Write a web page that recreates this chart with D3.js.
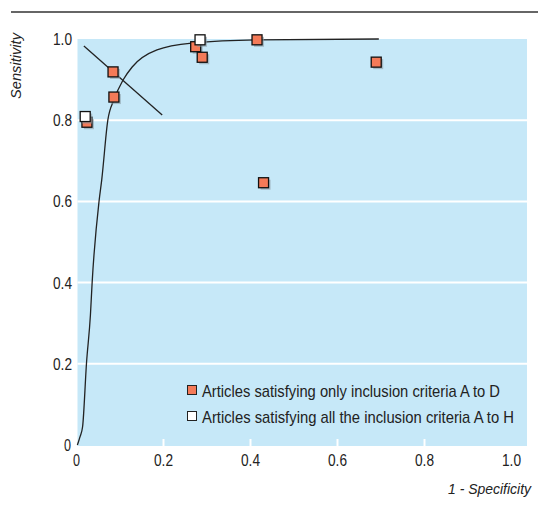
<!DOCTYPE html>
<html>
<head>
<meta charset="utf-8">
<script src="https://cdn.jsdelivr.net/npm/d3@7"></script>
<style>
  body { margin: 0; background: #fff; }
  svg text { font-family: "Liberation Sans", Arial, sans-serif; fill: #222; }
</style>
</head>
<body>
<svg id="chart"></svg>
<script>
const width = 538;
const height = 506;

// studies: [1 - specificity, sensitivity]
const partialStudies = [
  [0.024, 0.795], [0.086, 0.857], [0.084, 0.919], [0.274, 0.981],
  [0.289, 0.955], [0.415, 0.998], [0.689, 0.943], [0.430, 0.646]
];
const fullStudies = [[0.020, 0.809], [0.284, 0.998]];

// summary ROC curve
const srocCurve = [
  [0.002, 0], [0.008, 0.02], [0.014, 0.045], [0.023, 0.202], [0.032, 0.32],
  [0.036, 0.401], [0.052, 0.602], [0.058, 0.653], [0.072, 0.80], [0.086, 0.85],
  [0.107, 0.899], [0.128, 0.931], [0.185, 0.973], [0.268, 0.99], [0.415, 0.998],
  [0.695, 1.0]
];
const qLine = [[0.017, 0.983], [0.197, 0.813]];

const xTicks = [0, 0.2, 0.4, 0.6, 0.8, 1.0];
const yTicks = [0, 0.2, 0.4, 0.6, 0.8, 1.0];
const legendLabels = [
  "Articles satisfying only inclusion criteria A to D",
  "Articles satisfying all the inclusion criteria A to H"
];
const legendWidths = [298, 312];

const x = d3.scaleLinear().domain([0, 1]).range([76.5, 511.5]);
const y = d3.scaleLinear().domain([0, 1]).range([445, 39]);

const svg = d3.select("#chart").attr("width", width).attr("height", height);

// rule across the top
svg.append("line")
  .attr("x1", 11).attr("x2", 538).attr("y1", 12).attr("y2", 12)
  .attr("stroke", "#333").attr("stroke-width", 1.5);

// plot background
svg.append("rect")
  .attr("x", x(0) + 1).attr("y", y(1))
  .attr("width", 527 - x(0) - 1).attr("height", y(0) - y(1) + 1)
  .attr("fill", "#c6e8f8");

// horizontal grid
svg.append("g").selectAll("line")
  .data(yTicks.filter(d => d > 0 && d < 1))
  .join("line")
  .attr("x1", x(0) + 1).attr("x2", 527)
  .attr("y1", d => y(d)).attr("y2", d => y(d))
  .attr("stroke", "#fff").attr("stroke-width", 2);

// x ticks inside bottom
svg.append("g").selectAll("line")
  .data(xTicks.filter(d => d > 0 && d < 1))
  .join("line")
  .attr("x1", d => x(d)).attr("x2", d => x(d))
  .attr("y1", y(0) + 1).attr("y2", y(0) - 6)
  .attr("stroke", "#fff").attr("stroke-width", 2);

// tick labels
const fmt = d => d === 0 ? "0" : d.toFixed(1);
svg.append("g").selectAll("text")
  .data(xTicks)
  .join("text")
  .attr("x", d => x(d))
  .attr("y", 466)
  .attr("text-anchor", "middle")
  .attr("font-size", 16)
  .attr("textLength", d => d === 0 ? 7 : 19)
  .attr("lengthAdjust", "spacingAndGlyphs")
  .text(fmt);

svg.append("g").selectAll("text")
  .data(yTicks)
  .join("text")
  .attr("x", d => d === 0 ? 71 : 72)
  .attr("y", d => y(d) + 6)
  .attr("text-anchor", "end")
  .attr("font-size", 16)
  .attr("textLength", d => d === 0 ? 7 : 19)
  .attr("lengthAdjust", "spacingAndGlyphs")
  .text(fmt);

// axis titles
svg.append("text")
  .attr("transform", "translate(21,66) rotate(-90)")
  .attr("text-anchor", "middle")
  .attr("font-size", 15)
  .attr("font-style", "italic")
  .attr("textLength", 66)
  .attr("lengthAdjust", "spacingAndGlyphs")
  .text("Sensitivity");

svg.append("text")
  .attr("x", 531).attr("y", 494)
  .attr("text-anchor", "end")
  .attr("font-size", 15)
  .attr("font-style", "italic")
  .attr("textLength", 83)
  .attr("lengthAdjust", "spacingAndGlyphs")
  .text("1 - Specificity");

// curve and line
const line = d3.line().x(d => x(d[0])).y(d => y(d[1]));
svg.append("path")
  .datum(srocCurve)
  .attr("d", line.curve(d3.curveMonotoneX))
  .attr("fill", "none").attr("stroke", "#222").attr("stroke-width", 1.3);

svg.append("path")
  .datum(qLine)
  .attr("d", d3.line().x(d => x(d[0])).y(d => y(d[1])))
  .attr("fill", "none").attr("stroke", "#222").attr("stroke-width", 1.3);

// study markers with drop shadow
const s = 10;
function drawMarkers(data, fill) {
  const g = svg.append("g");
  g.selectAll("rect.shadow")
    .data(data)
    .join("rect")
    .attr("class", "shadow")
    .attr("x", d => x(d[0]) - s / 2 + 2).attr("y", d => y(d[1]) - s / 2 + 2)
    .attr("width", s).attr("height", s)
    .attr("fill", "#8a9aa3").attr("opacity", 0.6);
  g.selectAll("rect.mark")
    .data(data)
    .join("rect")
    .attr("class", "mark")
    .attr("x", d => x(d[0]) - s / 2).attr("y", d => y(d[1]) - s / 2)
    .attr("width", s).attr("height", s)
    .attr("fill", fill).attr("stroke", "#111").attr("stroke-width", 1.3);
}
drawMarkers(partialStudies, "#f47a58");
drawMarkers(fullStudies, "#ffffff");

// legend
const legend = svg.append("g").attr("transform", "translate(187,390)");
const legendFills = ["#f47a58", "#ffffff"];
const items = legend.selectAll("g")
  .data(legendLabels)
  .join("g")
  .attr("transform", (d, i) => `translate(0,${i * 26})`);
items.append("rect")
  .attr("x", 0.5).attr("y", -4.5).attr("width", 9).attr("height", 9)
  .attr("fill", (d, i) => legendFills[i]).attr("stroke", "#222").attr("stroke-width", 1);
items.append("text")
  .attr("x", 15).attr("y", 6.5)
  .attr("font-size", 17)
  .attr("textLength", (d, i) => legendWidths[i])
  .attr("lengthAdjust", "spacingAndGlyphs")
  .text(d => d);
</script>
</body>
</html>
